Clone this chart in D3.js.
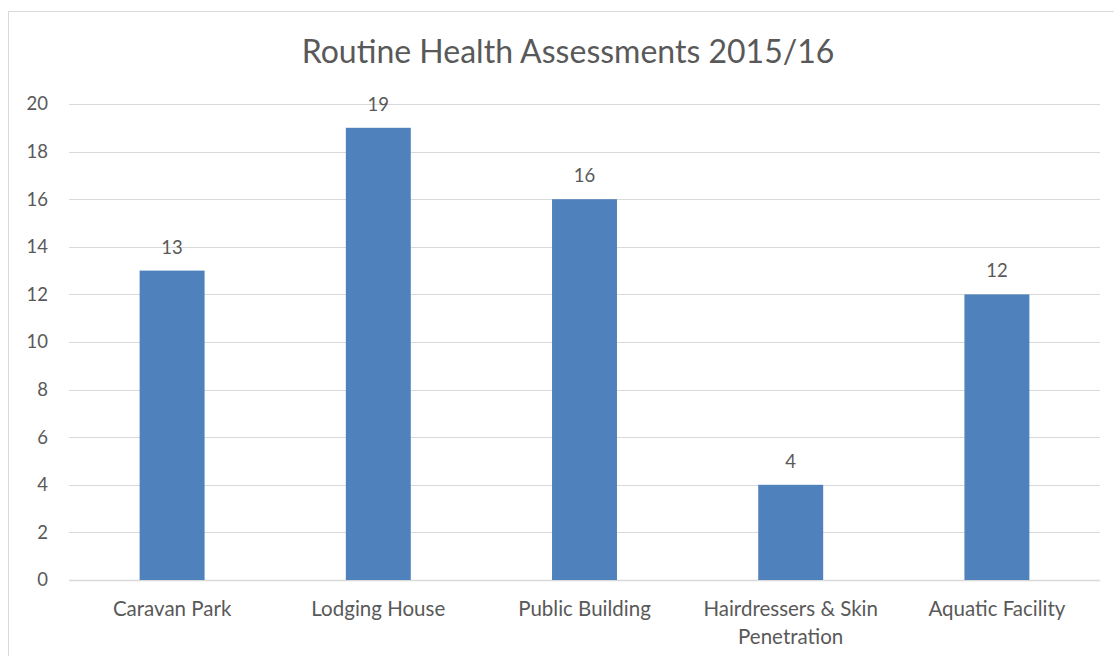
<!DOCTYPE html>
<html>
<head>
<meta charset="utf-8">
<script src="https://cdn.jsdelivr.net/npm/d3@7"></script>
<style>
  body { margin: 0; background: #fff; }
  text { font-family: Lato, "Open Sans", sans-serif; fill: #595959; }
</style>
</head>
<body>
<svg></svg>
<script>
const categories = [
  'Caravan Park',
  'Lodging House',
  'Public Building',
  'Hairdressers & Skin Penetration',
  'Aquatic Facility',
]
const assessments = [13, 19, 16, 4, 12]
const yTicks = [0, 2, 4, 6, 8, 10, 12, 14, 16, 18, 20]

const svgWidth = 1114
const svgHeight = 656
const plotLeft = 69
const plotRight = 1100
const plotTop = 104
const plotBottom = 580

const svg = d3.select('svg')
  .attr('width', svgWidth)
  .attr('height', svgHeight)

// chart frame (runs off the bottom/right like the screenshot)
svg.append('rect')
  .attr('x', 8.5)
  .attr('y', 11.5)
  .attr('width', svgWidth)
  .attr('height', svgHeight)
  .attr('fill', 'none')
  .attr('stroke', '#d9d9d9')

svg.append('text')
  .attr('x', 568)
  .attr('y', 63)
  .attr('text-anchor', 'middle')
  .style('font-size', '32px')
  .text('Routine Health Assessments 2015/16')

const xScale = d3.scaleBand()
  .domain(categories)
  .range([plotLeft, plotRight])
  .paddingInner(0.685)
  .paddingOuter(0.3425)

const yScale = d3.scaleLinear()
  .domain([0, 20])
  .range([plotBottom, plotTop])

// gridlines
svg.append('g')
  .selectAll('line')
  .data(yTicks)
  .enter()
  .append('line')
  .attr('x1', plotLeft)
  .attr('x2', plotRight)
  .attr('y1', d => Math.round(yScale(d)) + 0.5)
  .attr('y2', d => Math.round(yScale(d)) + 0.5)
  .attr('stroke', '#d9d9d9')
  .attr('stroke-width', d => d === 0 ? 1.5 : 1)

const yAxis = svg.append('g')
  .attr('transform', `translate(${plotLeft},0)`)
  .call(d3.axisLeft(yScale).tickValues(yTicks).tickSize(0).tickPadding(21))
yAxis.select('.domain').remove()
yAxis.selectAll('text')
  .style('font-size', '18.5px')
  .attr('fill', '#595959')

svg.append('g')
  .selectAll('rect')
  .data(assessments)
  .enter()
  .append('rect')
  .attr('x', (d, i) => xScale(categories[i]))
  .attr('width', xScale.bandwidth())
  .attr('y', d => yScale(d))
  .attr('height', d => plotBottom - yScale(d))
  .attr('fill', '#4f81bd')

svg.append('g')
  .selectAll('text')
  .data(assessments)
  .enter()
  .append('text')
  .attr('x', (d, i) => xScale(categories[i]) + xScale.bandwidth() / 2)
  .attr('y', d => yScale(d) - 17)
  .attr('text-anchor', 'middle')
  .style('font-size', '18.5px')
  .attr('fill', '#404040')
  .text(d => d)

// category labels, wrapped to the band like the original
const labelWidth = 210
const catLabels = svg.append('g')
  .selectAll('text')
  .data(categories)
  .enter()
  .append('text')
  .attr('text-anchor', 'middle')
  .style('font-size', '20.5px')
  .attr('x', d => xScale(d) + xScale.bandwidth() / 2)
  .attr('y', 616)

catLabels.each(function (d) {
  const el = d3.select(this)
  const words = d.split(' ')
  let line = []
  let tspan = el.append('tspan').attr('x', el.attr('x')).attr('dy', 0)
  words.forEach(w => {
    line.push(w)
    tspan.text(line.join(' '))
    if (tspan.node().getComputedTextLength() > labelWidth && line.length > 1) {
      line.pop()
      tspan.text(line.join(' '))
      line = [w]
      tspan = el.append('tspan').attr('x', el.attr('x')).attr('dy', 28).text(w)
    }
  })
})
</script>
</body>
</html>
